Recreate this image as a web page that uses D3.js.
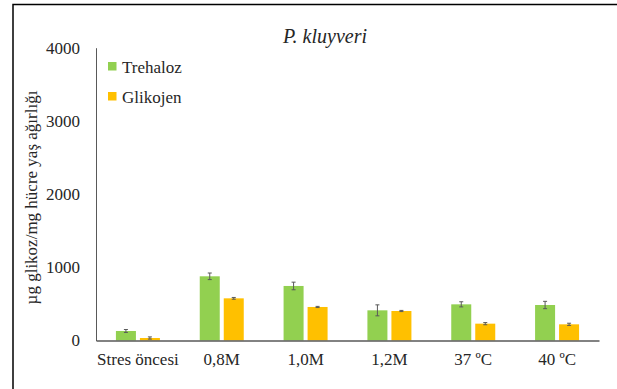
<!DOCTYPE html>
<html>
<head>
<meta charset="utf-8">
<script src="https://cdn.jsdelivr.net/npm/d3@7"></script>
<style>
  html, body { margin: 0; padding: 0; background: #fff; }
  svg { display: block; }
</style>
</head>
<body>
<svg id="chart" width="617" height="389" font-family="Liberation Serif"></svg>
<script>
// Conditions on the x axis
const categories = ["Stres öncesi", "0,8M", "1,0M", "1,2M", "37 ºC", "40 ºC"];
// Series names
const seriesNames = ["Trehaloz", "Glikojen"];
// Mean values (µg glikoz / mg hücre yaş ağırlığı)
const trehaloz = [130, 877, 745, 412, 494, 485];
const glikojen = [34, 576, 458, 403, 230, 221];
// Standard deviations for the error bars
const trehalozErr = [20, 45, 52, 75, 35, 50];
const glikojenErr = [15, 12, 8, 8, 15, 15];
// Y axis ticks
const yTicks = [0, 1000, 2000, 3000, 4000];

const colors = ["#92D050", "#FFC000"];
const FONT = "Liberation Serif";
const TEXT = "#262626";
const svg = d3.select("#chart");

// Outer frame (top and left edges)
svg.append("path")
  .attr("d", "M13,389 L13,4.5 L617,4.5")
  .attr("fill", "none").attr("stroke", "#000").attr("stroke-width", 1.5);

const margin = { left: 96, right: 599, top: 47.7, bottom: 340.5 };

const x = d3.scaleBand().domain(categories).range([margin.left, margin.right]);
const y = d3.scaleLinear().domain([0, 4000]).range([margin.bottom, margin.top]);
const barW = 20, gap = 4;

const data = categories.map((c, i) => ({
  cat: c,
  vals: [
    { s: 0, v: trehaloz[i], e: trehalozErr[i] },
    { s: 1, v: glikojen[i], e: glikojenErr[i] }
  ]
}));

// Bars
const groups = svg.append("g").selectAll("g").data(data).join("g");
groups.selectAll("rect").data(d => d.vals.map(v => ({ ...v, cat: d.cat }))).join("rect")
  .attr("x", d => x(d.cat) + x.bandwidth() / 2 + (d.s === 0 ? -(barW + gap / 2) : gap / 2))
  .attr("y", d => y(d.v))
  .attr("width", barW)
  .attr("height", d => y(0) - y(d.v))
  .attr("fill", d => colors[d.s]);

// Error bars
const eb = groups.selectAll("g.err").data(d => d.vals.map(v => ({ ...v, cat: d.cat }))).join("g")
  .attr("class", "err")
  .attr("stroke", "#595959").attr("stroke-width", 1);
eb.each(function (d) {
  const cx = x(d.cat) + x.bandwidth() / 2 + (d.s === 0 ? -(barW / 2 + gap / 2) : gap / 2 + barW / 2);
  const g = d3.select(this);
  g.append("line").attr("x1", cx).attr("x2", cx).attr("y1", y(d.v + d.e)).attr("y2", y(d.v - d.e));
  g.append("line").attr("x1", cx - 2).attr("x2", cx + 2).attr("y1", y(d.v + d.e)).attr("y2", y(d.v + d.e));
  g.append("line").attr("x1", cx - 2).attr("x2", cx + 2).attr("y1", y(d.v - d.e)).attr("y2", y(d.v - d.e));
});

// Y axis
const yAxis = svg.append("g").attr("transform", `translate(${margin.left},0)`)
  .call(d3.axisLeft(y).tickValues(yTicks).tickSize(0).tickPadding(16).tickFormat(d3.format("d")))
  .attr("font-family", FONT).attr("font-size", 17);
yAxis.select(".domain").attr("stroke", "#595959").attr("stroke-width", 1);
yAxis.selectAll("text").attr("fill", TEXT);

// X axis
const xAxis = svg.append("g").attr("transform", `translate(0,${margin.bottom})`)
  .call(d3.axisBottom(x).tickSize(0).tickPadding(12))
  .attr("font-family", FONT).attr("font-size", 17);
xAxis.select(".domain").attr("stroke", "#595959").attr("stroke-width", 1.3);
xAxis.selectAll("text").attr("fill", TEXT);

// Y axis title
svg.append("text")
  .attr("transform", "translate(37,197.5) rotate(-90)")
  .attr("text-anchor", "middle")
  .attr("font-family", FONT)
  .attr("font-size", 17)
  .attr("fill", TEXT)
  .text("µg glikoz/mg hücre yaş ağırlığı");

// Title
svg.append("text")
  .attr("x", 325).attr("y", 43)
  .attr("text-anchor", "middle")
  .attr("font-family", FONT)
  .attr("font-size", 20)
  .attr("font-style", "italic")
  .attr("fill", TEXT)
  .text("P. kluyveri");

// Legend
const legend = svg.append("g").attr("font-family", FONT).attr("font-size", 17);
seriesNames.forEach((n, i) => {
  const ly = 72.5 + i * 30;
  legend.append("rect").attr("x", 108).attr("y", ly - 10.5).attr("width", 8.5).attr("height", 8.5).attr("fill", colors[i]);
  legend.append("text").attr("x", 122).attr("y", ly).attr("fill", TEXT).text(n);
});
</script>
</body>
</html>
